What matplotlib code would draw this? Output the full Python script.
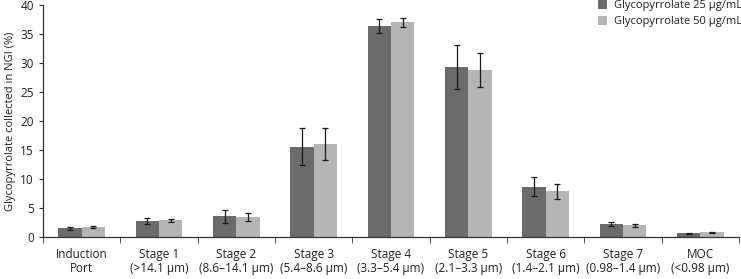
import matplotlib
matplotlib.use("Agg")
import matplotlib.pyplot as plt
import numpy as np

categories = ["Induction\nPort", "Stage 1\n(>14.1 μm)", "Stage 2\n(8.6–14.1 μm)", "Stage 3\n(5.4–8.6 μm)",
              "Stage 4\n(3.3–5.4 μm)", "Stage 5\n(2.1–3.3 μm)", "Stage 6\n(1.4–2.1 μm)",
              "Stage 7\n(0.98–1.4 μm)", "MOC\n(<0.98 μm)"]
vals_25 = [1.5, 2.75, 3.55, 15.6, 36.3, 29.3, 8.7, 2.25, 0.62]
err_25 = [0.25, 0.5, 1.1, 3.2, 1.2, 3.8, 1.6, 0.35, 0.12]
vals_50 = [1.7, 2.85, 3.45, 16.0, 37.0, 28.8, 7.9, 2.0, 0.8]
err_50 = [0.15, 0.3, 0.65, 2.8, 0.8, 2.9, 1.3, 0.3, 0.1]
labels = ["Glycopyrrolate 25 μg/mL", "Glycopyrrolate 50 μg/mL"]

plt.rcParams['font.family'] = ['Open Sans', 'DejaVu Sans']

fig = plt.figure(figsize=(7.41, 2.79), dpi=100)
ax = fig.add_axes([43/741, 1-237/279, (739-43)/741, (237-5)/279])

x = np.arange(len(categories))
w = 0.3
ekw = dict(ecolor='#1a1a1a', elinewidth=0.9, capsize=2.2, capthick=0.9)
ax.bar(x - w/2, vals_25, w, yerr=err_25, color='#6b6b6b', label=labels[0], error_kw=ekw)
ax.bar(x + w/2, vals_50, w, yerr=err_50, color='#b5b5b5', label=labels[1], error_kw=ekw)

ax.set_xlim(-0.5, len(categories) - 0.5)
ax.set_ylim(0, 40)
ax.set_yticks(range(0, 41, 5))
ax.set_xticks(x)
ax.set_xticklabels(categories, fontsize=8.5, color='#222222', linespacing=1.12)
ax.set_xticks(np.arange(len(categories) + 1) - 0.5, minor=True)
ax.tick_params(axis='x', which='major', length=0, pad=8)
ax.tick_params(axis='x', which='minor', length=4, direction='out', color='#333333')
ax.tick_params(axis='y', length=3, direction='out', labelsize=8.5, labelcolor='#222222', color='#333333')
for s in ['top', 'right']:
    ax.spines[s].set_visible(False)
for s in ['left', 'bottom']:
    ax.spines[s].set_color('#333333')
    ax.spines[s].set_linewidth(0.9)
ax.set_ylabel("Glycopyrrolate collected in NGI (%)", fontsize=8, color='#222222', labelpad=3)

leg = fig.legend(loc='upper left', bbox_to_anchor=(598/741, 1.0), bbox_transform=fig.transFigure,
                 frameon=False, fontsize=8, handlelength=0.8, handleheight=0.8, handletextpad=0.6,
                 labelspacing=0.45, borderaxespad=0, borderpad=0)
for t in leg.get_texts():
    t.set_color('#222222')

fig.savefig("out.png", dpi=100)
